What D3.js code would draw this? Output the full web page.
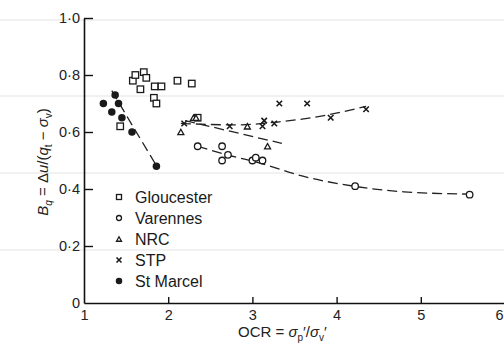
<!DOCTYPE html>
<html>
<head>
<meta charset="utf-8">
<script src="https://cdn.jsdelivr.net/npm/d3@7"></script>
<style>
  body { margin: 0; background: #fff; }
  svg { display: block; font-family: "Liberation Sans", Arial, sans-serif; }
</style>
</head>
<body>
<div id="chart"></div>
<script>
// Bq vs OCR for five clay sites

const gloucester = [
  [1.58, 0.78], [1.61, 0.80], [1.71, 0.81], [1.74, 0.79], [1.67, 0.75],
  [1.84, 0.76], [1.92, 0.76], [1.83, 0.72], [1.86, 0.70], [2.11, 0.78],
  [2.28, 0.77], [1.43, 0.62], [2.35, 0.65]
];
const varennes = [
  [2.35, 0.55], [2.64, 0.55], [2.71, 0.52], [2.64, 0.50], [3.00, 0.50],
  [3.04, 0.51], [3.12, 0.50], [4.22, 0.41], [5.58, 0.38]
];
const nrc = [
  [2.15, 0.60], [2.30, 0.65], [2.33, 0.65], [2.94, 0.62], [3.18, 0.55]
];
const stp = [
  [2.19, 0.63], [2.73, 0.62], [3.14, 0.64], [3.12, 0.62], [3.26, 0.63],
  [3.32, 0.70], [3.65, 0.70], [3.93, 0.65], [4.35, 0.68]
];
const stMarcel = [
  [1.23, 0.70], [1.37, 0.73], [1.41, 0.70], [1.33, 0.67], [1.45, 0.65],
  [1.57, 0.60], [1.86, 0.48]
];

// dashed trend lines
const trendStMarcel = [[1.33, 0.745], [1.57, 0.625], [1.86, 0.482]];
const trendVarennes = [[2.35, 0.55], [2.7, 0.52], [3.1, 0.49], [3.6, 0.445], [4.2, 0.41], [4.8, 0.39], [5.58, 0.382]];
const trendStp = [[2.15, 0.63], [2.8, 0.625], [3.3, 0.635], [3.8, 0.655], [4.35, 0.69]];
const trendNrc = [[2.2, 0.64], [3.35, 0.56]];

const xTicks = [1, 2, 3, 4, 5, 6];
const yTicks = [0, 0.2, 0.4, 0.6, 0.8, 1.0];
const legendNames = ["Gloucester", "Varennes", "NRC", "STP", "St Marcel"];

// faint scan streaks across the page (in B_q units)
const scanLines = [0.993, 0.726, 0.456, 0.186];

const W = 504, H = 344;
const svg = d3.select("#chart").append("svg")
  .attr("width", W).attr("height", H);

const x = d3.scaleLinear().domain([1, 6]).range([84, 505]);
const y = d3.scaleLinear().domain([0, 1]).range([303, 18]);

svg.selectAll(".scan")
  .data(scanLines)
  .enter().append("line")
  .attr("x1", 0).attr("x2", W)
  .attr("y1", d => y(d)).attr("y2", d => y(d))
  .attr("stroke", "#ececec")
  .attr("stroke-width", 1.5);

// axes
const fmt = d => d === 0 ? "0" : d3.format(".1f")(d).replace(".", "·");

const gy = svg.append("g")
  .attr("transform", `translate(${x(1)},0)`)
  .call(d3.axisLeft(y).tickValues(yTicks).tickFormat(fmt)
    .tickSizeInner(-9).tickSizeOuter(0).tickPadding(4));

const gx = svg.append("g")
  .attr("transform", `translate(0,${y(0)})`)
  .call(d3.axisBottom(x).tickValues(xTicks).tickFormat(d3.format("d"))
    .tickSizeInner(-6).tickSizeOuter(0).tickPadding(7));

[gx, gy].forEach(g => {
  g.select(".domain").attr("stroke", "#111").attr("stroke-width", 1.6);
  g.selectAll(".tick line").attr("stroke", "#111").attr("stroke-width", 1.4);
  g.selectAll("text").attr("fill", "#222").style("font-size", "14.5px")
    .style("font-family", "'Liberation Sans', Arial, sans-serif");
});
gx.select(".tick:first-of-type line").remove();
gy.select(".tick:first-of-type line").remove();
// last x label sits at the page edge: keep it inside
gx.select(".tick:last-of-type text").attr("text-anchor", "end").attr("x", -2);

// trend lines
const line = d3.line().x(d => x(d[0])).y(d => y(d[1]));
const curve = d3.line().x(d => x(d[0])).y(d => y(d[1])).curve(d3.curveMonotoneX);

[[trendStMarcel, line], [trendVarennes, curve], [trendStp, curve], [trendNrc, line]]
  .forEach(([pts, gen]) => {
    svg.append("path")
      .attr("d", gen(pts))
      .attr("fill", "none")
      .attr("stroke", "#222")
      .attr("stroke-width", 1.3)
      .attr("stroke-dasharray", "10,5");
  });

// marker drawers
const ink = "#1a1a1a";
function drawSquare(g, cx, cy, s) {
  g.append("rect").attr("x", cx - s / 2).attr("y", cy - s / 2)
    .attr("width", s).attr("height", s)
    .attr("fill", "#fff").attr("stroke", ink).attr("stroke-width", 1.3);
}
function drawCircle(g, cx, cy, s) {
  g.append("circle").attr("cx", cx).attr("cy", cy).attr("r", s / 2)
    .attr("fill", "#fff").attr("stroke", ink).attr("stroke-width", 1.3);
}
function drawTriangle(g, cx, cy, s) {
  const h = s * 0.9;
  g.append("path")
    .attr("d", `M${cx},${cy - h / 2}L${cx + s / 2},${cy + h / 2}L${cx - s / 2},${cy + h / 2}Z`)
    .attr("fill", "#fff").attr("stroke", ink).attr("stroke-width", 1.3);
}
function drawCross(g, cx, cy, s) {
  const r = s / 2;
  g.append("path")
    .attr("d", `M${cx - r},${cy - r}L${cx + r},${cy + r}M${cx - r},${cy + r}L${cx + r},${cy - r}`)
    .attr("stroke", ink).attr("stroke-width", 1.6);
}
function drawDot(g, cx, cy, s) {
  g.append("circle").attr("cx", cx).attr("cy", cy).attr("r", s / 2)
    .attr("fill", ink);
}

const series = [
  { data: gloucester, draw: drawSquare, size: 6.5, legSize: 5 },
  { data: varennes, draw: drawCircle, size: 6.5, legSize: 5 },
  { data: nrc, draw: drawTriangle, size: 6, legSize: 5 },
  { data: stp, draw: drawCross, size: 5.5, legSize: 5 },
  { data: stMarcel, draw: drawDot, size: 7.5, legSize: 6.5 }
];

series.forEach(s => {
  const g = svg.append("g");
  s.data.forEach(d => s.draw(g, x(d[0]), y(d[1]), s.size));
});

// legend
const legend = svg.append("g").attr("transform", "translate(119,197)");
legendNames.forEach((name, i) => {
  const row = legend.append("g").attr("transform", `translate(0,${i * 21})`);
  series[i].draw(row, 0, 0, series[i].legSize);
  row.append("text")
    .attr("x", 16).attr("y", 0)
    .attr("dy", "0.36em")
    .style("font-size", "16px")
    .attr("fill", "#1a1a1a")
    .text(name);
});

// axis titles
const xt = svg.append("text")
  .attr("x", 238).attr("y", 337)
  .style("font-size", "15px")
  .attr("fill", "#222");
xt.append("tspan").text("OCR = ");
xt.append("tspan").style("font-style", "italic").text("σ");
xt.append("tspan").attr("dy", 4).style("font-size", "10px").text("p");
xt.append("tspan").attr("dy", -4).text("′/");
xt.append("tspan").style("font-style", "italic").text("σ");
xt.append("tspan").attr("dy", 4).style("font-size", "10px").text("v");
xt.append("tspan").attr("dy", -4).text("′");

const yt = svg.append("text")
  .attr("transform", "translate(48,162) rotate(-90)")
  .attr("text-anchor", "middle")
  .style("font-size", "15px")
  .attr("fill", "#222");
yt.append("tspan").style("font-style", "italic").text("B");
yt.append("tspan").attr("dy", 4).style("font-size", "10px").style("font-style", "italic").text("q");
yt.append("tspan").attr("dy", -4).text(" = Δ");
yt.append("tspan").style("font-style", "italic").text("u");
yt.append("tspan").text("/(");
yt.append("tspan").style("font-style", "italic").text("q");
yt.append("tspan").attr("dy", 4).style("font-size", "10px").text("t");
yt.append("tspan").attr("dy", -4).text(" − ");
yt.append("tspan").style("font-style", "italic").text("σ");
yt.append("tspan").attr("dy", 4).style("font-size", "10px").text("v");
yt.append("tspan").attr("dy", -4).text(")");
</script>
</body>
</html>
